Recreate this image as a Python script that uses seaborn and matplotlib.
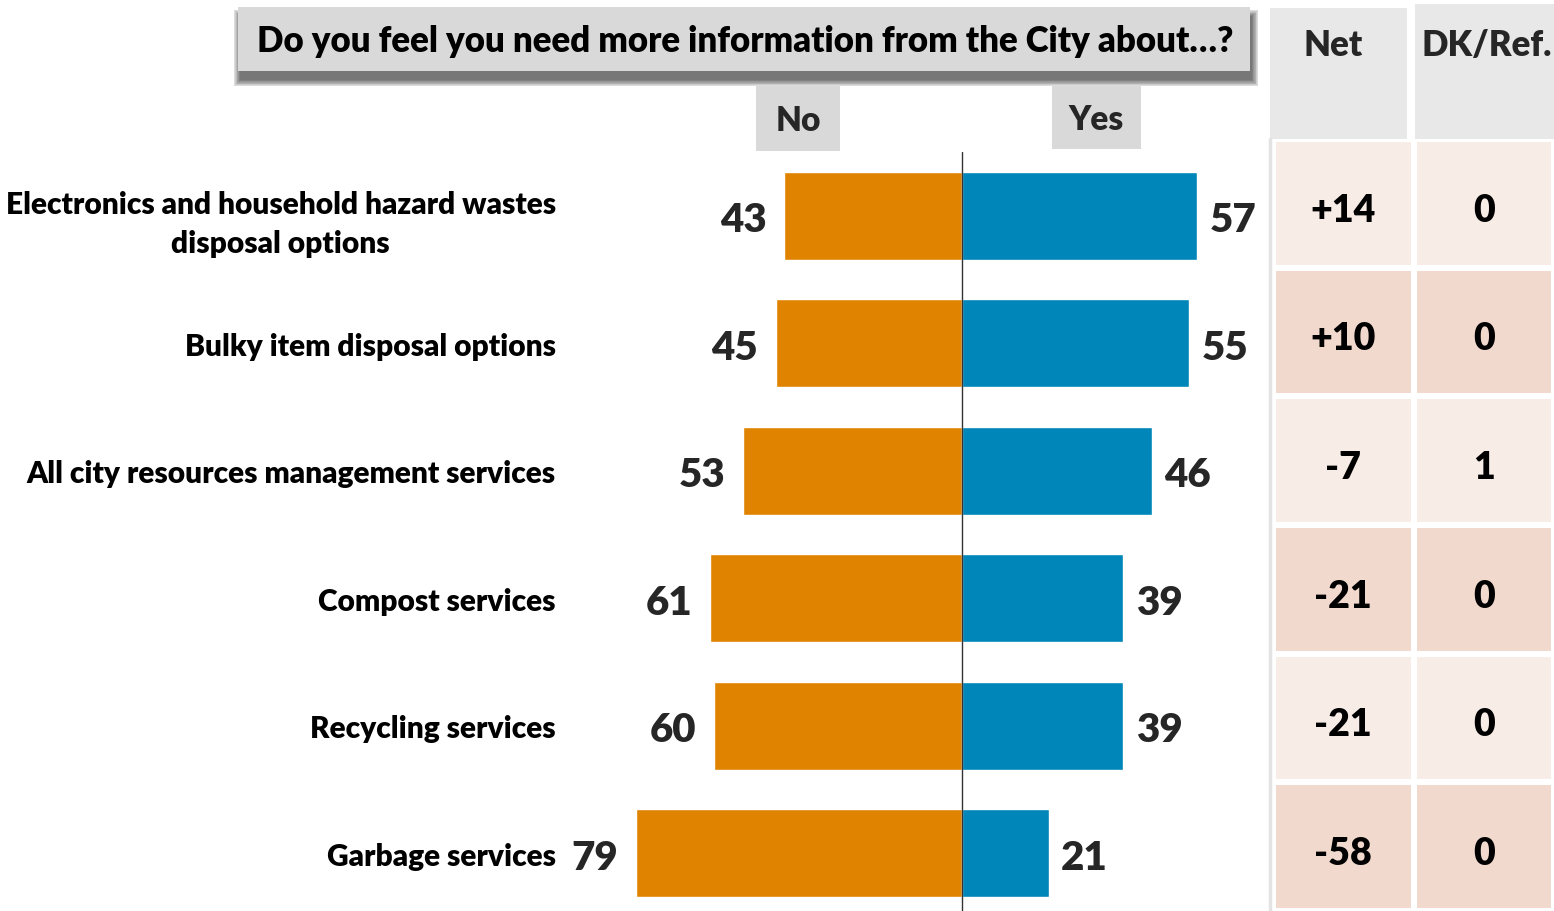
import matplotlib
matplotlib.use('Agg')
import matplotlib.pyplot as plt
from matplotlib.colors import ListedColormap
from matplotlib.patches import Rectangle
import numpy as np
import pandas as pd
import seaborn as sns

categories = ['Electronics and household hazard wastes\ndisposal options',
              'Bulky item disposal options',
              'All city resources management services',
              'Compost services',
              'Recycling services',
              'Garbage services']
no_vals = [43, 45, 53, 61, 60, 79]
yes_vals = [57, 55, 46, 39, 39, 21]
net_labels = ['+14', '+10', '-7', '-21', '-21', '-58']
dk_vals = [0, 0, 1, 0, 0, 0]

ORANGE = '#DF8300'
BLUE = '#0086B8'
BOLD = 'heavy'

sns.set_theme(style='white')
plt.rcParams['font.family'] = ['Lato', 'DejaVu Sans']

W, H = 1554, 912
fig = plt.figure(figsize=(W / 100, H / 100), dpi=100)


def box(l, t, r, b):
    return [l / W, 1 - b / H, (r - l) / W, (b - t) / H]


# background layer in pixel coords (title, headers)
bg = fig.add_axes([0, 0, 1, 1])
bg.set_xlim(0, W)
bg.set_ylim(H, 0)
bg.axis('off')

for k in range(10):
    bg.add_patch(Rectangle((238 - k * 0.7 + 2, 8 + 9 - k * 0.7), 1012 + k * 1.4, 64 + k * 1.4,
                           color='black', alpha=0.07, lw=0))
bg.add_patch(Rectangle((238, 8), 1012, 64, color='#D9D9D9', lw=0))
bg.text(745, 42, 'Do you feel you need more information from the City about…?',
        ha='center', va='center', fontsize=25, fontweight=BOLD, color='black')

bg.add_patch(Rectangle((756, 87), 84, 65, color='#D9D9D9', lw=0))
bg.text(798, 121, 'No', ha='center', va='center', fontsize=24, fontweight=BOLD)
bg.add_patch(Rectangle((1052, 87), 89, 63, color='#D9D9D9', lw=0))
bg.text(1096, 120, 'Yes', ha='center', va='center', fontsize=24, fontweight=BOLD)

bg.add_patch(Rectangle((1270, 9), 137, 131, color='#E8E8E8', lw=0))
bg.add_patch(Rectangle((1415, 5), 139, 135, color='#E8E8E8', lw=0))
bg.text(1333, 45, 'Net', ha='center', va='center', fontsize=25, fontweight=BOLD)
bg.text(1487, 45, 'DK/Ref.', ha='center', va='center', fontsize=25, fontweight=BOLD)
bg.plot([1270, 1270], [140, 912], color='#E3E3E3', lw=2.5)

# diverging bars
ax = fig.add_axes(box(560, 153, 1265, 912))
df = pd.DataFrame({'cat': categories, 'No': [-v for v in no_vals], 'Yes': yes_vals})
sns.barplot(data=df, x='No', y='cat', color=ORANGE, width=0.69, saturation=1, ax=ax)
sns.barplot(data=df, x='Yes', y='cat', color=BLUE, width=0.69, saturation=1, ax=ax)
ax.set_xlim((560 - 962) / 4.13, (1265 - 962) / 4.13)
ax.set_ylim(5.455, -0.5)
ax.axvline(0, color='#333333', lw=1)
for i, (n, y) in enumerate(zip(no_vals, yes_vals)):
    ax.annotate(str(n), (-n, i), xytext=(-13, -3), textcoords='offset points',
                ha='right', va='center', fontsize=29, fontweight=BOLD)
    ax.annotate(str(y), (y, i), xytext=(9, -3), textcoords='offset points',
                ha='left', va='center', fontsize=29, fontweight=BOLD)
ax.set_xlabel('')
ax.set_ylabel('')
ax.xaxis.set_visible(False)
for s in ax.spines.values():
    s.set_visible(False)
ax.tick_params(axis='y', length=0, pad=3, labelsize=21.5)
for lab in ax.get_yticklabels():
    lab.set_fontweight(BOLD)
    lab.set_multialignment('center')
    lab.set_linespacing(1.45)
    lab.set_color('black')

# net / DK table
tab = fig.add_axes(box(1273, 140, 1554, 912))
parity = np.array([[i % 2, i % 2] for i in range(len(categories))])
annot = np.array([[net_labels[i], str(dk_vals[i])] for i in range(len(categories))])
sns.heatmap(parity, ax=tab, cmap=ListedColormap(['#F8ECE7', '#F2D9CD']), vmin=0, vmax=1,
            cbar=False, annot=annot, fmt='',
            annot_kws=dict(fontsize=27, fontweight=BOLD, color='black'),
            linewidths=4, linecolor='white', xticklabels=False, yticklabels=False)
for t in tab.texts:
    t.set_y(t.get_position()[1] + 0.05)

fig.savefig('out.png', dpi=100)
